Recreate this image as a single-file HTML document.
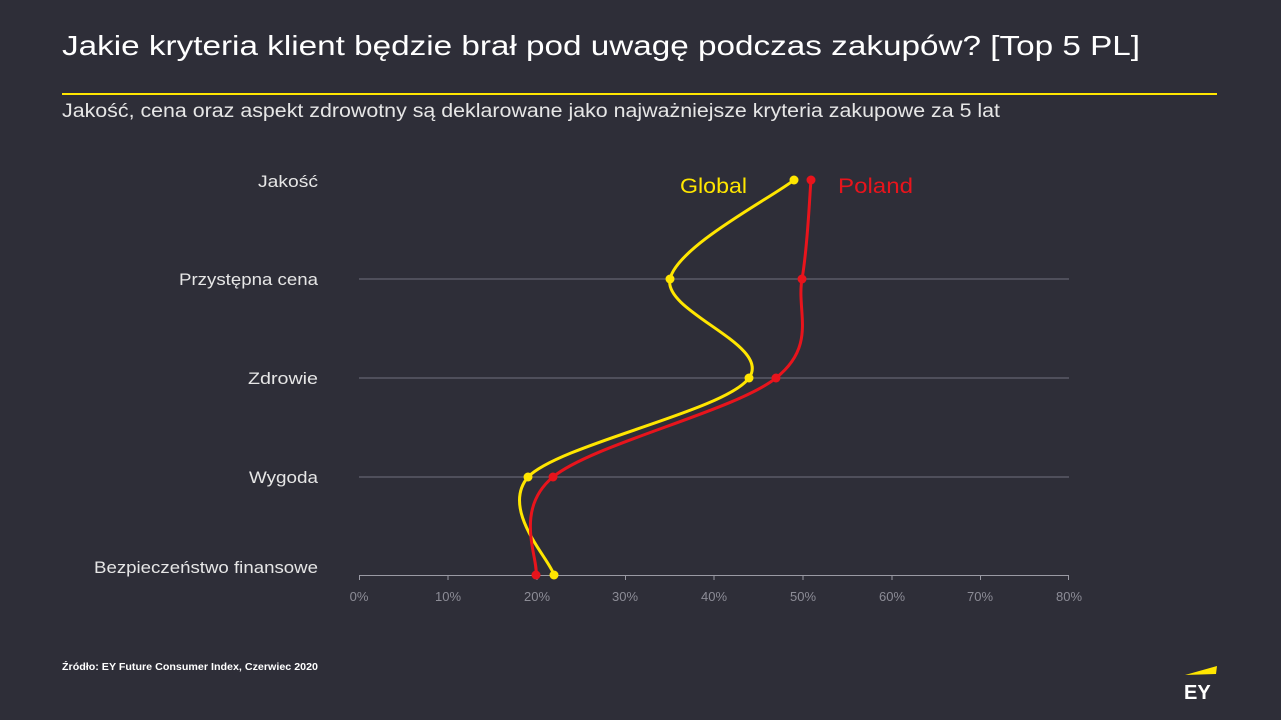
<!DOCTYPE html>
<html><head><meta charset="utf-8"><style>
html,body{margin:0;padding:0;background:#2e2e38;}
body{width:1281px;height:720px;overflow:hidden;position:relative;font-family:"Liberation Sans","DejaVu Sans",sans-serif;}
</style></head><body>
<svg width="1281" height="720" xmlns="http://www.w3.org/2000/svg" style="position:absolute;left:0;top:0">
<rect width="1281" height="720" fill="#2e2e38"/>
<text x="62" y="55" fill="#ffffff" font-size="28" textLength="1078" lengthAdjust="spacingAndGlyphs" font-family="Liberation Sans, sans-serif">Jakie kryteria klient będzie brał pod uwagę podczas zakupów? [Top 5 PL]</text>
<rect x="62" y="93" width="1155" height="2" fill="#ffe600"/>
<text x="62" y="117" fill="#e6e6e6" font-size="19" textLength="938" lengthAdjust="spacingAndGlyphs" font-family="Liberation Sans, sans-serif">Jakość, cena oraz aspekt zdrowotny są deklarowane jako najważniejsze  kryteria zakupowe za 5 lat</text>
<g stroke="#70707e" stroke-width="1">
<line x1="359" y1="279" x2="1069" y2="279"/>
<line x1="359" y1="378" x2="1069" y2="378"/>
<line x1="359" y1="477" x2="1069" y2="477"/>
<line x1="359" y1="575.5" x2="1069" y2="575.5" stroke="#9a9aa4"/>
</g>
<g stroke="#9a9aa4" stroke-width="1">
<line x1="359.5" y1="575" x2="359.5" y2="580"/><line x1="448" y1="575" x2="448" y2="580"/><line x1="537" y1="575" x2="537" y2="580"/><line x1="625.5" y1="575" x2="625.5" y2="580"/><line x1="714" y1="575" x2="714" y2="580"/><line x1="803" y1="575" x2="803" y2="580"/><line x1="892" y1="575" x2="892" y2="580"/><line x1="980.5" y1="575" x2="980.5" y2="580"/><line x1="1068.5" y1="575" x2="1068.5" y2="580"/>
</g>
<g fill="#8c8c96" font-size="13" text-anchor="middle" font-family="Liberation Sans, sans-serif">
<text x="359" y="601">0%</text><text x="448" y="601">10%</text><text x="537" y="601">20%</text><text x="625" y="601">30%</text><text x="714" y="601">40%</text><text x="803" y="601">50%</text><text x="892" y="601">60%</text><text x="980" y="601">70%</text><text x="1069" y="601">80%</text>
</g>
<g fill="#e6e6e6" font-size="17" text-anchor="end" font-family="Liberation Sans, sans-serif">
<text x="318" y="187" textLength="60" lengthAdjust="spacingAndGlyphs">Jakość</text>
<text x="318" y="285" textLength="139" lengthAdjust="spacingAndGlyphs">Przystępna cena</text>
<text x="318" y="384" textLength="70" lengthAdjust="spacingAndGlyphs">Zdrowie</text>
<text x="318" y="483" textLength="69" lengthAdjust="spacingAndGlyphs">Wygoda</text>
<text x="318" y="573" textLength="224" lengthAdjust="spacingAndGlyphs">Bezpieczeństwo finansowe</text>
</g>
<path d="M794,180 C773,197 677.5,246 670,279 C662.5,312 772.7,345 749,378 C725.3,411 560.5,444 528,477 C500,510 549.7,559 554,575" fill="none" stroke="#ffe600" stroke-width="3"/>
<path d="M811,180 C809.5,196.5 807.8,246 802,279 C796.2,312 817.5,345 776,378 C734.5,411 593,444 553,477 C513,510 538.8,558.7 536,575" fill="none" stroke="#e8141c" stroke-width="3"/>
<g fill="#ffe600"><circle cx="794" cy="180" r="4.5"/><circle cx="670" cy="279" r="4.5"/><circle cx="749" cy="378" r="4.5"/><circle cx="528" cy="477" r="4.5"/><circle cx="554" cy="575" r="4.5"/></g>
<g fill="#e8141c"><circle cx="811" cy="180" r="4.5"/><circle cx="802" cy="279" r="4.5"/><circle cx="776" cy="378" r="4.5"/><circle cx="553" cy="477" r="4.5"/><circle cx="536" cy="575" r="4.5"/></g>
<text x="680" y="193" fill="#ffe600" font-size="21" textLength="67" lengthAdjust="spacingAndGlyphs" font-family="Liberation Sans, sans-serif">Global</text>
<text x="838" y="193" fill="#e8141c" font-size="21" textLength="75" lengthAdjust="spacingAndGlyphs" font-family="Liberation Sans, sans-serif">Poland</text>
<text x="62" y="670" fill="#ffffff" font-size="10" font-weight="bold" textLength="256" lengthAdjust="spacingAndGlyphs" font-family="Liberation Sans, sans-serif">Źródło: EY Future Consumer Index, Czerwiec 2020</text>
<polygon points="1185,675 1217,666 1216,674" fill="#ffe600"/>
<text x="1184" y="699" fill="#ffffff" font-size="20" font-weight="bold" font-family="Liberation Sans, sans-serif">EY</text>
</svg>
</body></html>
